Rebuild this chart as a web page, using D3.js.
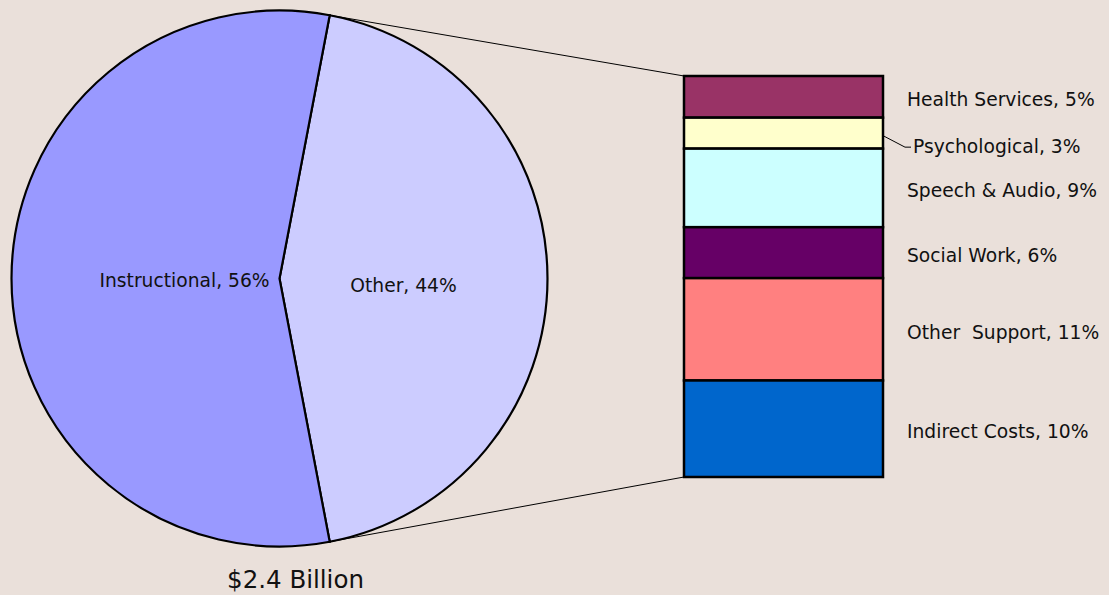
<!DOCTYPE html>
<html>
<head>
<meta charset="utf-8">
<script src="https://cdn.jsdelivr.net/npm/d3@7"></script>
<style>
  html, body { margin: 0; padding: 0; background: #EAE0DA; }
  svg { display: block; }
  text { font-family: "DejaVu Sans", Verdana, sans-serif; fill: #111; white-space: pre; }
</style>
</head>
<body>
<script>
// ---- data ----
const pieCategories = ["Other", "Instructional"];
const pieValues = [44, 56];
const pieLabels = ["Other, 44%", "Instructional, 56%"];
const pieColors = ["#CCCCFF", "#9999FF"];

const barCategories = ["Health Services", "Psychological", "Speech & Audio", "Social Work", "Other  Support", "Indirect Costs"];
const barValues = [4.57, 3.40, 8.62, 5.59, 11.23, 10.59];
const barLabels = ["Health Services, 5%", "Psychological, 3%", "Speech & Audio, 9%", "Social Work, 6%", "Other  Support, 11%", "Indirect Costs, 10%"];
const barColors = ["#993366", "#FFFFCC", "#CCFFFF", "#660066", "#FF8080", "#0066CC"];

const totalLabel = "$2.4 Billion";

// ---- layout ----
const W = 1109, H = 595;
const cx = 279.5, cy = 278.5, R = 268;
const svg = d3.select("body").append("svg").attr("width", W).attr("height", H);

const otherShare = pieValues[0] / d3.sum(pieValues);
const start = Math.PI / 2 - otherShare * Math.PI;
const pie = d3.pie().sort(null).value(d => d).startAngle(start).endAngle(start + 2 * Math.PI);
const arcs = pie(pieValues);
const arc = d3.arc().innerRadius(0).outerRadius(R);

const g = svg.append("g").attr("transform", `translate(${cx},${cy})`);
g.selectAll("path.slice").data(arcs).join("path")
  .attr("class", "slice")
  .attr("d", arc)
  .attr("fill", (d, i) => pieColors[i])
  .attr("stroke", "#000")
  .attr("stroke-width", 2.2)
  .attr("stroke-linejoin", "miter");

// pie labels
const labelRadius = [124, 95];
const labelDy = [6.5, 1.5];
g.selectAll("text.plabel").data(arcs).join("text")
  .attr("class", "plabel")
  .attr("x", (d, i) => Math.sin((d.startAngle + d.endAngle) / 2) * labelRadius[i])
  .attr("y", (d, i) => -Math.cos((d.startAngle + d.endAngle) / 2) * labelRadius[i] + labelDy[i])
  .attr("dy", "0.35em")
  .attr("text-anchor", "middle")
  .style("font-size", "18.7px")
  .text((d, i) => pieLabels[i]);

// total label
svg.append("text")
  .attr("x", cx + 16).attr("y", 588)
  .attr("text-anchor", "middle")
  .style("font-size", "24.5px")
  .text(totalLabel);

// ---- stacked bar ----
const bx0 = 684, bx1 = 883, by0 = 76, by1 = 477;
const yScale = d3.scaleLinear().domain([0, d3.sum(barValues)]).range([by0, by1]);
const stackData = [];
let acc = 0;
barValues.forEach((v, i) => { stackData.push({ y0: acc, y1: acc + v, i }); acc += v; });

// connector lines
const otherArc = arcs[0];
const pt = a => [cx + R * Math.sin(a), cy - R * Math.cos(a)];
const pTop = pt(otherArc.startAngle), pBot = pt(otherArc.endAngle);
svg.append("line").attr("x1", pTop[0]).attr("y1", pTop[1]).attr("x2", bx0).attr("y2", by0)
  .attr("stroke", "#000").attr("stroke-width", 1);
svg.append("line").attr("x1", pBot[0]).attr("y1", pBot[1]).attr("x2", bx0).attr("y2", by1)
  .attr("stroke", "#000").attr("stroke-width", 1);

svg.selectAll("rect.seg").data(stackData).join("rect")
  .attr("class", "seg")
  .attr("x", bx0)
  .attr("width", bx1 - bx0)
  .attr("y", d => yScale(d.y0))
  .attr("height", d => yScale(d.y1) - yScale(d.y0))
  .attr("fill", d => barColors[d.i])
  .attr("stroke", "#000")
  .attr("stroke-width", 2.5);

// bar labels
const lx = 907;
svg.selectAll("text.blabel").data(stackData).join("text")
  .attr("class", "blabel")
  .attr("x", d => d.i === 1 ? lx + 6 : lx)
  .attr("y", d => {
    const mid = (yScale(d.y0) + yScale(d.y1)) / 2;
    return d.i === 1 ? mid + 19.5 : mid + 9.3;
  })
  .style("font-size", "18.7px")
  .text(d => barLabels[d.i]);

// leader for Psychological
const psy = stackData[1];
const pmid = (yScale(psy.y0) + yScale(psy.y1)) / 2;
svg.append("polyline")
  .attr("points", `${bx1},${pmid + 2.5} ${905},${pmid + 14} ${911},${pmid + 14}`)
  .attr("fill", "none").attr("stroke", "#000").attr("stroke-width", 1);
</script>
</body>
</html>
